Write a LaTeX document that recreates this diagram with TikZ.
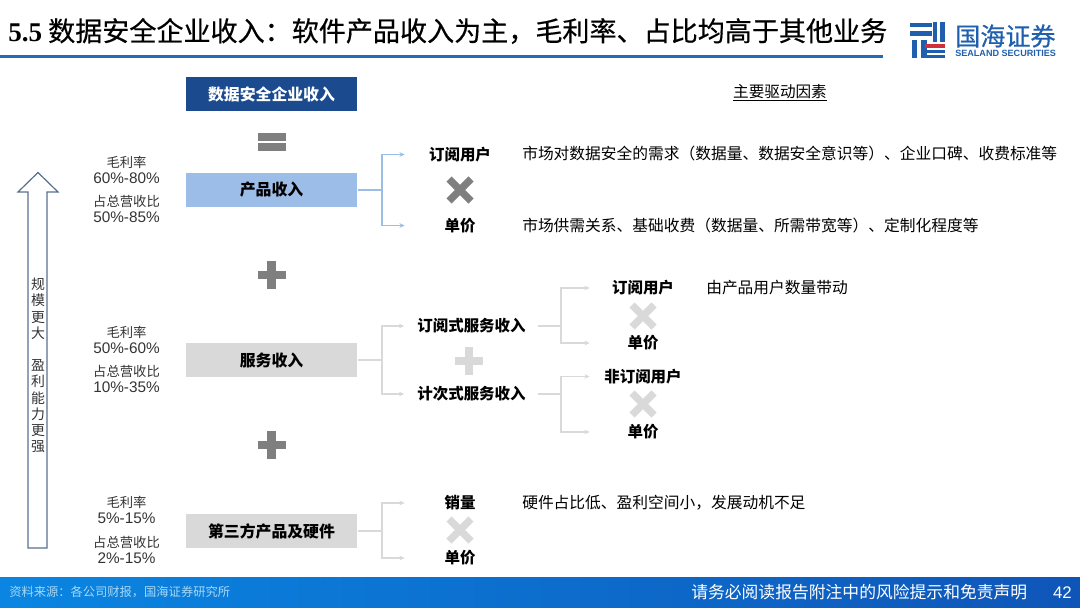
\documentclass[tikz,border=0pt]{standalone}
\usepackage{fontspec}
\usepackage{xcolor}
\setmainfont{Noto Sans CJK SC}
\newfontfamily\latinfont{Liberation Sans}
\newfontfamily\titlefont{Liberation Serif}[BoldFont={Liberation Serif Bold}]
\newfontfamily\headfont{Noto Sans CJK SC}[FakeBold=0.5]
\usetikzlibrary{arrows.meta,positioning}

\definecolor{navyfill}{HTML}{1B4A8E}
\definecolor{bluefill}{HTML}{9DBDE9}
\definecolor{grayfill}{HTML}{D9D9D9}
\definecolor{darkmark}{HTML}{7F7F7F}
\definecolor{rulecolor}{HTML}{1F6DB4}
\definecolor{arrowline}{HTML}{5A6F8F}
\definecolor{logoblue}{HTML}{1F5FAE}
\definecolor{logored}{HTML}{D0303C}
\definecolor{footleft}{HTML}{0A86E2}
\definecolor{footright}{HTML}{0F55B8}
\definecolor{sourcetext}{HTML}{A6D8F6}

\tikzset{
    x=0.75pt, y=-0.75pt,
    inner sep=0pt,
    bandbox/.style={minimum width=171.5*0.75pt, minimum height=34*0.75pt, font=\fontsize{11.9}{14}\selectfont\bfseries},
    keylabel/.style={minimum width=62*0.75pt, font=\fontsize{11.6}{14}\selectfont\bfseries},
    serviceLabel/.style={minimum width=110*0.75pt, font=\fontsize{11.6}{14}\selectfont\bfseries},
    subLabel/.style={minimum width=80*0.75pt, font=\fontsize{11.6}{14}\selectfont\bfseries},
    driverText/.style={anchor=west, font=\fontsize{11.8}{14}\selectfont},
    ratioText/.style={align=center, text=black!80, font=\fontsize{10}{12}\selectfont},
    linkblue/.style={draw=bluefill, line width=0.9pt, -{Stealth[length=4pt,width=3.5pt]}},
    linkgray/.style={draw=grayfill, line width=0.9pt, -{Stealth[length=4pt,width=3.5pt]}},
    plusmark/.pic={
        \draw[pic actions, line width=6.2pt] (-14,0) -- (14,0);
        \draw[pic actions, line width=6.2pt] (0,-14) -- (0,14);
    },
    crossmark/.pic={
        \draw[pic actions, line width=5.4pt] (-11,-11) -- (11,11);
        \draw[pic actions, line width=5.4pt] (-11,11) -- (11,-11);
    }
}
\newcommand{\ratiolabel}[1]{{\fontsize{11.5}{12}\latinfont #1}}

\begin{document}
\begin{tikzpicture}
    \useasboundingbox (0,0) rectangle (1080,607);

    % header
    \node[anchor=west, font=\fontsize{20.3}{24}\headfont] (title) at (8,31)
        {{\titlefont\bfseries 5.5} 数据安全企业收入：软件产品收入为主，毛利率、占比均高于其他业务};
    \fill[rulecolor] (0,55) rectangle (883,58);

    % logo
    \foreach \ya/\yb in {23/27,31/36}
        \fill[logoblue] (910,\ya) rectangle (932,\yb);
    \foreach \xa/\xb in {912/917,921/927}
        \fill[logoblue] (\xa,40) rectangle (\xb,58);
    \foreach \xa/\xb in {933/937,940/945}
        \fill[logoblue] (\xa,22) rectangle (\xb,42);
    \fill[logored] (925,44) rectangle (945,48);
    \foreach \ya/\yb in {50/53,55/58}
        \fill[logoblue] (925,\ya) rectangle (945,\yb);
    \node[anchor=west, text=logoblue, font=\fontsize{18.8}{20}\headfont] (logoName) at (955,36) {国海证券};
    \node[anchor=west, text=logoblue, font=\fontsize{6.8}{8}\latinfont\bfseries] (logoSub) at (955,53.5) {SEALAND SECURITIES};

    % rising arrow
    \draw[arrowline, line width=0.9pt, fill=white] (38,172.5) -- (58,192) -- (47,192) -- (47,548)
        -- (28,548) -- (28,192) -- (18,192) -- cycle;
    \node[align=center, text=black!80, font=\fontsize{10.4}{12.15}\selectfont] (scaleText) at (38,365.5)
        {规\\模\\更\\大\\\mbox{}\\盈\\利\\能\\力\\更\\强};

    % main column
    \node[bandbox, fill=navyfill, text=white] (total) at (271.5,94) {数据安全企业收入};
    \node[bandbox, fill=bluefill] (product) at (271.5,190) {产品收入};
    \node[bandbox, fill=grayfill] (service) at (271.5,360) {服务收入};
    \node[bandbox, fill=grayfill] (hardware) at (271.5,531) {第三方产品及硬件};

    \foreach \ya/\yb in {133/141,143/151}
        \fill[darkmark] (258,\ya) rectangle (286,\yb);
    \pic[darkmark] at (271.5,275) {plusmark};
    \pic[darkmark] at (271.5,445) {plusmark};

    % ratios
    \node[ratioText] (ratioA) at (126.5,170) {毛利率\\\ratiolabel{60\%-80\%}};
    \node[ratioText] (shareA) at (126.5,209) {占总营收比\\\ratiolabel{50\%-85\%}};
    \node[ratioText] (ratioB) at (126.5,340) {毛利率\\\ratiolabel{50\%-60\%}};
    \node[ratioText] (shareB) at (126.5,379) {占总营收比\\\ratiolabel{10\%-35\%}};
    \node[ratioText] (ratioC) at (126.5,510) {毛利率\\\ratiolabel{5\%-15\%}};
    \node[ratioText] (shareC) at (126.5,550) {占总营收比\\\ratiolabel{2\%-15\%}};

    % product branch
    \node[keylabel] (prodUser) at (460,154.5) {订阅用户};
    \node[keylabel] (prodPrice) at (460,225.5) {单价};
    \pic[darkmark] at (460,190) {crossmark};
    \coordinate (prodJoin) at (382,190);
    \draw[bluefill, line width=0.9pt] (product.east) -- (prodJoin);
    \draw[linkblue, shorten >=24*0.75pt] (prodJoin) |- (prodUser.west);
    \draw[linkblue, shorten >=24*0.75pt] (prodJoin) |- (prodPrice.west);

    % service branch
    \node[serviceLabel] (subIncome) at (471.5,326) {订阅式服务收入};
    \node[serviceLabel] (payIncome) at (471.5,394) {计次式服务收入};
    \pic[grayfill] at (469,361) {plusmark};
    \coordinate (servJoin) at (382,360);
    \draw[grayfill, line width=0.9pt] (service.east) -- (servJoin);
    \draw[linkgray, shorten >=12*0.75pt] (servJoin) |- (subIncome.west);
    \draw[linkgray, shorten >=12*0.75pt] (servJoin) |- (payIncome.west);

    \node[subLabel] (subUser) at (643,288) {订阅用户};
    \node[subLabel] (subPrice) at (643,343) {单价};
    \node[subLabel] (payUser) at (643,376.5) {非订阅用户};
    \node[subLabel] (payPrice) at (643,432) {单价};
    \pic[grayfill] at (643,316) {crossmark};
    \pic[grayfill] at (643,404) {crossmark};
    \coordinate (subJoin) at (561,326);
    \coordinate (payJoin) at (561,394);
    \draw[grayfill, line width=0.9pt] (subIncome.east) ++(11,0) -- (subJoin);
    \draw[grayfill, line width=0.9pt] (payIncome.east) ++(11,0) -- (payJoin);
    \draw[linkgray, shorten >=13*0.75pt] (subJoin) |- (subUser.west);
    \draw[linkgray, shorten >=13*0.75pt] (subJoin) |- (subPrice.west);
    \draw[linkgray, shorten >=13*0.75pt] (payJoin) |- (payUser.west);
    \draw[linkgray, shorten >=13*0.75pt] (payJoin) |- (payPrice.west);

    % hardware branch
    \node[keylabel] (saleVolume) at (460,503) {销量};
    \node[keylabel] (salePrice) at (460,558) {单价};
    \pic[grayfill] at (460,530) {crossmark};
    \coordinate (hardJoin) at (382,531);
    \draw[grayfill, line width=0.9pt] (hardware.east) -- (hardJoin);
    \draw[linkgray, shorten >=24*0.75pt] (hardJoin) |- (saleVolume.west);
    \draw[linkgray, shorten >=24*0.75pt] (hardJoin) |- (salePrice.west);

    % drivers
    \node[font=\fontsize{11.7}{14}\selectfont] (driverHead) at (780,93) {\underline{主要驱动因素}};
    \node[driverText] (driverA) at (522,153.5) {市场对数据安全的需求（数据量、数据安全意识等）、企业口碑、收费标准等};
    \node[driverText] (driverB) at (522,225.5) {市场供需关系、基础收费（数据量、所需带宽等）、定制化程度等};
    \node[driverText] (driverC) at (706,287.5) {由产品用户数量带动};
    \node[driverText] (driverD) at (522,502.5) {硬件占比低、盈利空间小，发展动机不足};

    % footer
    \fill[left color=footleft, right color=footright] (0,577) rectangle (1080,607);
    \node[anchor=west, text=sourcetext, font=\fontsize{9.2}{11}\selectfont] (source) at (9,591.5) {资料来源：各公司财报，国海证券研究所};
    \node[anchor=west, text=white, font=\fontsize{12.6}{15}\selectfont] (notice) at (691,592.5) {请务必阅读报告附注中的风险提示和免责声明};
    \node[anchor=east, text=white, font=\fontsize{12.6}{15}\latinfont] (pageNo) at (1072,592.5) {42};
\end{tikzpicture}
\end{document}
